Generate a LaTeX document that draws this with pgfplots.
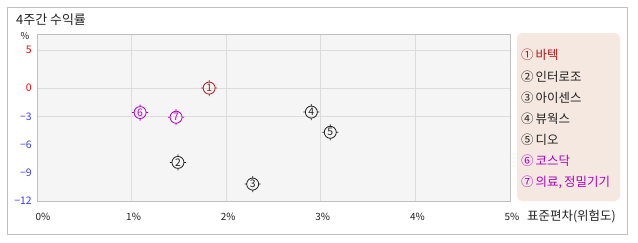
\documentclass[border=0pt]{standalone}
\usepackage{fontspec}
\setmainfont{Noto Sans CJK KR}
\usepackage{pgfplots}
\pgfplotsset{compat=1.18}
\definecolor{cred}{HTML}{B01C1C}
\definecolor{cblk}{HTML}{222222}
\definecolor{cmag}{HTML}{B000C8}
\definecolor{tred}{HTML}{FF0000}
\definecolor{tblue}{HTML}{3C3CFF}
\definecolor{framec}{HTML}{C0C0C0}
\definecolor{plotbg}{HTML}{F5F5F5}
\definecolor{gridc}{HTML}{DCDCDC}
\definecolor{legbg}{HTML}{F5E8E0}
\pgfdeclareplotmark{target}{%
  \pgfpathcircle{\pgfpoint{0pt}{0pt}}{6bp}%
  \pgfpathmoveto{\pgfpoint{0pt}{6bp}}\pgfpathlineto{\pgfpoint{0pt}{8bp}}%
  \pgfpathmoveto{\pgfpoint{0pt}{-6bp}}\pgfpathlineto{\pgfpoint{0pt}{-8bp}}%
  \pgfpathmoveto{\pgfpoint{6bp}{0pt}}\pgfpathlineto{\pgfpoint{8bp}{0pt}}%
  \pgfpathmoveto{\pgfpoint{-6bp}{0pt}}\pgfpathlineto{\pgfpoint{-8bp}{0pt}}%
  \pgfusepathqstroke}
\newcommand{\fs}[1]{\fontsize{#1}{#1}\selectfont}
\begin{document}
\begin{tikzpicture}[x=1bp,y=1bp]
\path[use as bounding box, fill=white] (0,0) rectangle (638,242);
\draw[framec, line width=1bp] (7.5,7.5) rectangle (627.5,234.5);
\node[anchor=west, inner sep=0pt, font=\fs{13}, text=cblk] at (16,222) {4주간 수익률};
\node[inner sep=0pt, font=\fs{9.5}, text=cblk] at (25,206) {\%};
\node[anchor=west, inner sep=0pt, font=\fs{12.5}, text=cblk] at (527,25) {표준편차(위험도)};
\begin{axis}[at={(37bp,41bp)}, anchor=south west,
  scale only axis, width=473bp, height=167bp,
  xmin=0, xmax=5, ymin=-12, ymax=5.745,
  axis background/.style={fill=plotbg},
  axis line style={framec, line width=1bp},
  major tick length=0pt,
  xtick={0,1,2,3,4,5},
  xticklabels={\hspace{8bp}0\%,1\%,2\%,3\%,4\%,5\%},
  xticklabel style={anchor=center, yshift=-16bp, xshift=2bp, font=\fs{10}, text=cblk, inner sep=0pt},
  ytick={-3,0,4.04},
  yticklabels={\textcolor{tblue}{−3},\textcolor{tred}{0},\textcolor{tred}{5}},
  extra y ticks={-12,-9,-6},
  extra y tick labels={\textcolor{tblue}{−12},\textcolor{tblue}{−9},\textcolor{tblue}{−6}},
  extra y tick style={grid=none},
  yticklabel style={anchor=east, xshift=-5bp, font=\fs{10.5}, inner sep=0pt},
  grid=major, major grid style={gridc, line width=0.8bp},
  clip=false,
  every node near coord/.style={anchor=center, font=\fs{10.5}, inner sep=0pt},
  nodes near coords align={center},
]
\addplot[only marks, mark=target, cred, line width=0.8bp, nodes near coords={1}] coordinates {(1.82,0)};
\addplot[only marks, mark=target, cblk, line width=0.8bp, nodes near coords={2}] coordinates {(1.49,-7.9)};
\addplot[only marks, mark=target, cblk, line width=0.8bp, nodes near coords={3}] coordinates {(2.28,-10.2)};
\addplot[only marks, mark=target, cblk, line width=0.8bp, nodes near coords={4}] coordinates {(2.90,-2.55)};
\addplot[only marks, mark=target, cblk, line width=0.8bp, nodes near coords={5}] coordinates {(3.10,-4.7)};
\addplot[only marks, mark=target, cmag, line width=0.8bp, nodes near coords={6}] coordinates {(1.09,-2.6)};
\addplot[only marks, mark=target, cmag, line width=0.8bp, nodes near coords={7}] coordinates {(1.47,-3.1)};
\end{axis}
\fill[legbg, rounded corners=5bp] (517,41) rectangle (620,209);
\begin{scope}[every node/.style={anchor=west, inner sep=0pt, font=\fs{12.5}}]
\node[text=cred] at (521,187) {①\,바텍};
\node[text=cblk] at (521,165) {②\,인터로조};
\node[text=cblk] at (521,144) {③\,아이센스};
\node[text=cblk] at (521,123) {④\,뷰웍스};
\node[text=cblk] at (521,102) {⑤\,디오};
\node[text=cmag] at (521,81) {⑥\,코스닥};
\node[text=cmag] at (521,60) {⑦\,의료,\,정밀기기};
\end{scope}
\end{tikzpicture}
\end{document}
